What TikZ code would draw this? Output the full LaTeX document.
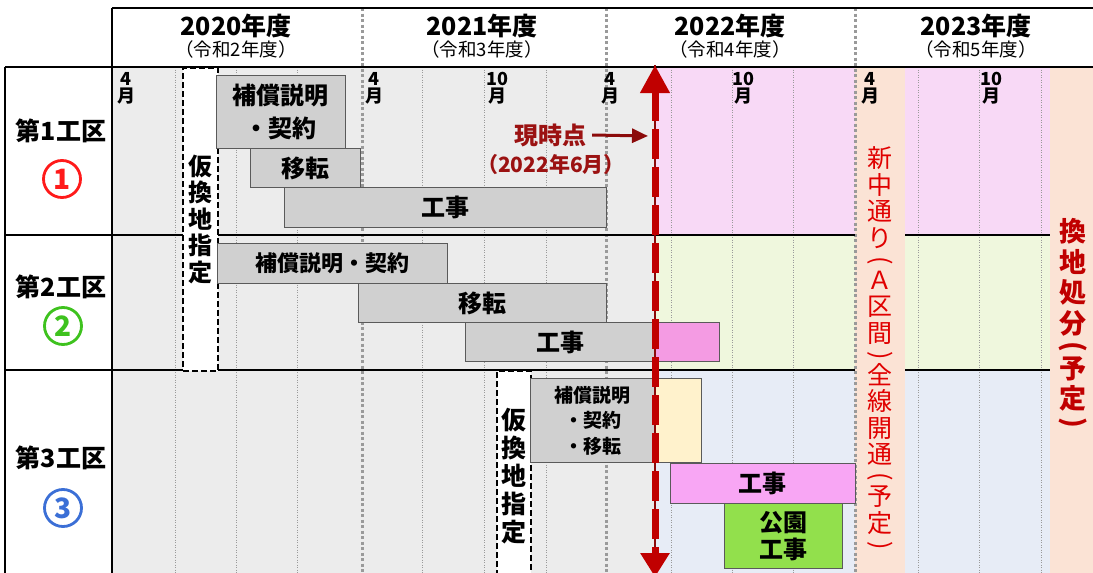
\documentclass[tikz,border=0pt]{standalone}
\usepackage{fontspec}
\usepackage{graphicx}
\setmainfont{Noto Sans CJK JP}
\newfontfamily\monthfont{Noto Sans CJK JP}[AutoFakeSlant=0.2]
\usetikzlibrary{arrows.meta}
\definecolor{bodygray}{HTML}{ECECEC}
\definecolor{bargray}{HTML}{D0D0D0}
\definecolor{barline}{HTML}{5A5A5A}
\definecolor{pinkbg}{HTML}{F8D9F6}
\definecolor{greenbg}{HTML}{EFF7DD}
\definecolor{bluebg}{HTML}{E7ECF6}
\definecolor{peach}{HTML}{FBE3D5}
\definecolor{pinkbar}{HTML}{F49BE3}
\definecolor{pinkbarb}{HTML}{F8A6F4}
\definecolor{cream}{HTML}{FFF2CC}
\definecolor{parkgreen}{HTML}{92E04C}
\definecolor{nowred}{HTML}{C00000}
\definecolor{nowdark}{HTML}{8B0A0A}
\definecolor{textred}{HTML}{9B1212}
\definecolor{routered}{HTML}{E00000}
\definecolor{cone}{HTML}{FF1A1A}
\definecolor{ctwo}{HTML}{3EC21E}
\definecolor{cthree}{HTML}{3B6FD6}
\definecolor{gridgray}{HTML}{9A9A9A}
\newcommand\vpl{\rotatebox[origin=c]{-90}{(}}
\newcommand\vpr{\rotatebox[origin=c]{-90}{)}}
\tikzset{
  thingrid/.style={draw=gridgray, line width=0.6pt, dash pattern=on 1pt off 1.5pt},
  yeargrid/.style={draw=gridgray, line width=3pt, dash pattern=on 3pt off 2.5pt},
  frame/.style={draw=black, line width=2.2pt},
  bar/.style={draw=barline, fill=bargray, line width=0.9pt, inner sep=0pt, anchor=north west, align=center, font=\fontsize{24}{33}\selectfont\bfseries},
  tentative/.style={draw=black, fill=white, dash pattern=on 6pt off 3pt, line width=1.6pt, anchor=north west, inner sep=0pt, align=center},
  vtext/.style={align=center, inner sep=0pt, anchor=north},
  yearlbl/.style={font=\fontsize{25}{25}\selectfont\bfseries, inner sep=0pt},
  sublbl/.style={font=\fontsize{18.5}{18.5}\selectfont, inner sep=0pt},
  mlbl/.style={font=\monthfont\fontsize{18}{17}\selectfont\bfseries\itshape, align=center, inner sep=0pt, anchor=north},
  seclbl/.style={font=\fontsize{25}{25}\selectfont\bfseries, inner sep=0pt},
  circnum/.style={circle, line width=2.8pt, minimum size=37pt, inner sep=0pt, font=\fontsize{28}{28}\selectfont\bfseries},
  nowlbl/.style={text=textred, font=\fontsize{24}{24}\selectfont\bfseries, inner sep=0pt},
  nowptr/.style={draw=nowdark, line width=3pt, -{Triangle[width=14pt,length=16pt]}},
  nowcore/.style={draw=nowdark, line width=2.5pt},
  nowline/.style={draw=nowred, line width=7pt, dash pattern=on 30pt off 8pt, {Triangle[width=28pt,length=28pt]}-{Triangle[width=28pt,length=24pt]}}
}
\begin{document}
\begin{tikzpicture}[x=1pt,y=-1pt]
\useasboundingbox (0,0) rectangle (1093,573);
\fill[white] (0,0) rectangle (1093,573);
% backgrounds
\fill[bodygray] (113,67) rectangle (655,573);
\fill[pinkbg] (655,67) rectangle (855,235);
\fill[pinkbg] (905,67) rectangle (1050,235);
\fill[greenbg] (655,235) rectangle (855,370);
\fill[greenbg] (905,235) rectangle (1050,370);
\fill[bluebg] (655,370) rectangle (855,573);
\fill[bluebg] (905,370) rectangle (1050,573);
\fill[peach] (855,67) rectangle (905,573);
\fill[peach] (1050,67) rectangle (1093,573);
% grid
\foreach \gx in {175,236,297,422,484,546,671,732,793,918,979,1041}
  \draw[thingrid] (\gx,67) -- (\gx,573);
\foreach \gx in {362,606,855}
  \draw[yeargrid] (\gx,8) -- (\gx,573);
% frame
\draw[frame, line width=1.8pt] (112,8) -- (1093,8);
\draw[frame] (5,67) -- (1093,67);
\draw[frame] (5,235) -- (855,235) (905,235) -- (1050,235);
\draw[frame] (5,370) -- (855,370) (905,370) -- (1050,370);
\draw[frame, line width=1.8pt] (5,67) -- (5,573) (112,8) -- (112,573);
% header
\node[yearlbl] (y20) at (236,26) {2020年度};
\node[sublbl] (s20) at (236,49) {（令和2年度）};
\node[yearlbl] (y21) at (482,26) {2021年度};
\node[sublbl] (s21) at (482,49) {（令和3年度）};
\node[yearlbl] (y22) at (730,26) {2022年度};
\node[sublbl] (s22) at (730,49) {（令和4年度）};
\node[yearlbl] (y23) at (976,26) {2023年度};
\node[sublbl] (s23) at (976,49) {（令和5年度）};
% month labels
\node[mlbl] (m1) at (126,72) {4\\月};
\node[mlbl] (m2) at (374,72) {4\\月};
\node[mlbl] (m3) at (497,72) {10\\月};
\node[mlbl] (m4) at (610,72) {4\\月};
\node[mlbl] (m5) at (743,72) {10\\月};
\node[mlbl] (m6) at (870,72) {4\\月};
\node[mlbl] (m7) at (991,72) {10\\月};
% left labels
\node[seclbl] (sec1) at (61,131) {第1工区};
\node[circnum, draw=cone, text=cone] (n1) at (62,179) {1};
\node[seclbl] (sec2) at (61,287) {第2工区};
\node[circnum, draw=ctwo, text=ctwo] (n2) at (63,326) {2};
\node[seclbl] (sec3) at (61,458) {第3工区};
\node[circnum, draw=cthree, text=cthree] (n3) at (63,508) {3};
% row 1
\node[tentative, minimum width=35pt, minimum height=303pt, font=\fontsize{24}{26.5}\selectfont\bfseries] (k1) at (182,67) {仮\\換\\地\\指\\定};
\node[bar, minimum width=129pt, minimum height=73pt] (b1a) at (216,75) {補償説明\\・契約};
\node[bar, minimum width=110pt, minimum height=39pt] (b1b) at (250,148) {移転};
\node[bar, minimum width=322pt, minimum height=40pt] (b1c) at (284,187) {工事};
% row 2
\node[bar, minimum width=230pt, minimum height=40pt, font=\fontsize{22}{24}\selectfont\bfseries] (b2a) at (217,243) {補償説明・契約};
\node[bar, minimum width=248pt, minimum height=39pt] (b2b) at (358,283) {移転};
\node[bar, minimum width=190pt, minimum height=39pt] (b2c) at (465,322) {工事};
\node[bar, fill=pinkbar, minimum width=64pt, minimum height=39pt] (b2d) at (655,322) {};
% row 3
\node[tentative, minimum width=34pt, minimum height=210pt, font=\fontsize{25}{28}\selectfont\bfseries] (k3) at (496,370) {仮\\換\\地\\指\\定};
\node[bar, minimum width=125pt, minimum height=84pt, font=\fontsize{19}{25.5}\selectfont\bfseries] (b3a) at (530,378) {補償説明\\・契約\\・移転};
\node[bar, fill=cream, minimum width=46pt, minimum height=84pt] (b3b) at (655,378) {};
\node[bar, fill=pinkbarb, minimum width=185pt, minimum height=40pt] (b3c) at (670,463) {工事};
\node[bar, fill=parkgreen, minimum width=118pt, minimum height=65pt, font=\fontsize{24}{27}\selectfont\bfseries] (b3d) at (724,503) {公園\\工事};
% vertical red texts
\node[vtext, text=routered, font=\fontsize{25}{26.5}\selectfont] (route) at (880,146.5) {新\\中\\通\\り\\[-5.5pt]\vpl\\[-5.5pt]Ａ\\区\\間\\[-5.5pt]\vpr\\[-5.5pt]全\\線\\開\\通\\[-5.5pt]\vpl\\[-5.5pt]予\\定\\[-5.5pt]\vpr};
\node[vtext, text=nowred, font=\fontsize{27}{30.5}\selectfont\bfseries] (kanchi) at (1073,218.5) {換\\地\\処\\分\\[-8pt]\vpl\\[-8pt]予\\定\\[-8pt]\vpr};
% current time
\coordinate (nowtop) at (655,65);
\coordinate (nowbot) at (655,577);
\draw[nowcore] (nowtop) -- (nowbot);
\draw[nowline] (nowtop) -- (nowbot);
\node[nowlbl] (nowtxt) at (550,135) {現時点};
\node[nowlbl, font=\fontsize{21}{21}\selectfont\bfseries] (nowdate) at (551,165) {（2022年6月）};
\coordinate (nowpt) at (648,136);
\draw[nowptr] ([xshift=6pt]nowtxt.east) -- (nowpt);
\end{tikzpicture}
\end{document}
